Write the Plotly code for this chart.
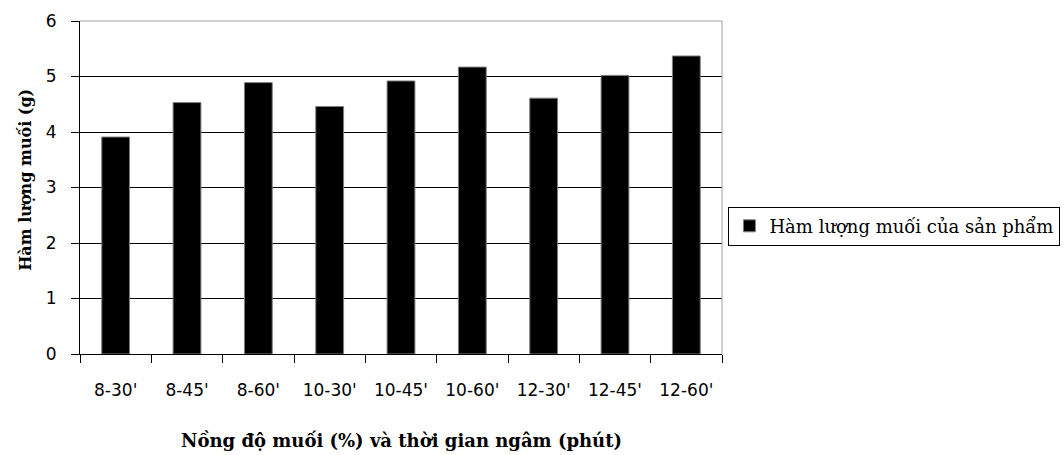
import plotly.graph_objects as go

# Salt concentration (%) - soaking time (minutes)
categories = ["8-30'", "8-45'", "8-60'", "10-30'", "10-45'", "10-60'", "12-30'", "12-45'", "12-60'"]
# Salt content of the product (g)
salt_content = [3.91, 4.53, 4.89, 4.46, 4.92, 5.17, 4.61, 5.02, 5.37]
y_ticks = [0, 1, 2, 3, 4, 5, 6]

series_name = "Hàm lượng muối của sản phẩm"
x_title = "Nồng độ muối (%) và thời gian ngâm (phút)"
y_title = "Hàm lượng muối (g)"

tick_font = dict(family="DejaVu Sans", size=17, color="#000000")

fig = go.Figure()
fig.add_trace(go.Bar(
    x=categories,
    y=salt_content,
    name=series_name,
    marker=dict(color="#000000", line=dict(color="#808080", width=1)),
    showlegend=True,
))

fig.update_layout(
    width=1064,
    height=455,
    margin=dict(l=80, r=342, t=21, b=101, autoexpand=False),
    paper_bgcolor="#ffffff",
    plot_bgcolor="#ffffff",
    bargap=0.61,
    showlegend=True,
    legend=dict(
        x=1.010, xanchor="left",
        y=0.384, yanchor="middle",
        bordercolor="#000000", borderwidth=1,
        font=dict(family="DejaVu Serif", size=18, color="#000000"),
        bgcolor="#ffffff",
        itemwidth=30,
        tracegroupgap=0,
    ),
    xaxis=dict(
        showline=True, linecolor="#000000", linewidth=1,
        ticks="outside", ticklen=8, tickcolor="#000000",
        tickson="boundaries",
        tickfont=tick_font,
        ticklabelstandoff=21,
        showgrid=False,
    ),
    yaxis=dict(
        range=[0, 6],
        tickvals=y_ticks,
        showline=True, linecolor="#000000", linewidth=1,
        ticks="outside", ticklen=8, tickcolor="#000000",
        tickfont=tick_font,
        ticklabelstandoff=11,
        showgrid=True, gridcolor="#000000", gridwidth=1,
        zeroline=False,
    ),
    annotations=[
        dict(text=f"<b>{x_title}</b>", xref="paper", yref="paper",
             x=0.5, y=-0.26, xanchor="center", yanchor="middle",
             showarrow=False,
             font=dict(family="DejaVu Serif", size=18, color="#000000")),
        dict(text=f"<b>{y_title}</b>", xref="paper", yref="paper",
             x=-0.086, y=0.5225, xanchor="center", yanchor="middle",
             textangle=-90, showarrow=False,
             font=dict(family="DejaVu Serif", size=16, color="#000000")),
    ],
    shapes=[
        dict(type="line", xref="paper", yref="paper", x0=0, x1=1, y0=1, y1=1,
             line=dict(color="#a0a0a0", width=1), layer="above"),
        dict(type="line", xref="paper", yref="paper", x0=1, x1=1, y0=0, y1=1,
             line=dict(color="#a0a0a0", width=1), layer="above"),
    ],
)

fig.write_html("out.html")
